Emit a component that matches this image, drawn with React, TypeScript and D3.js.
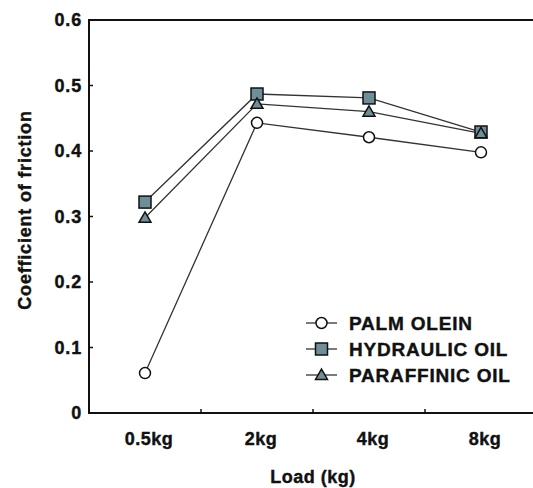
import React from "react";
import * as d3 from "d3";

const categories = ["0.5kg", "2kg", "4kg", "8kg"];
const palmOlein = [0.061, 0.443, 0.421, 0.398];
const hydraulicOil = [0.322, 0.487, 0.481, 0.429];
const paraffinicOil = [0.298, 0.472, 0.46, 0.427];
const yTicks = [0, 0.1, 0.2, 0.3, 0.4, 0.5, 0.6];
const seriesNames = ["PALM OLEIN", "HYDRAULIC OIL", "PARAFFINIC OIL"];

const W = 533;
const H = 488;
const M = { left: 89, top: 20, right: 537, bottom: 413 };
const FILL = "#6f8f98";
const INK = "#111";
const FONT = "'Liberation Sans', Arial, sans-serif";

function Marker({ type, x, y }: { type: string; x: number; y: number }) {
  if (type === "circle")
    return <circle cx={x} cy={y} r={5.5} fill="#fff" stroke={INK} strokeWidth={1.5} />;
  if (type === "square")
    return <rect x={x - 6} y={y - 6} width={12} height={12} fill={FILL} stroke={INK} strokeWidth={1.5} />;
  const p = d3.symbol(d3.symbolTriangle, 62)();
  return <path d={p || ""} transform={`translate(${x},${y + 1})`} fill={FILL} stroke={INK} strokeWidth={1.5} />;
}

export default function App() {
  const x = d3.scaleBand<string>().domain(categories).range([M.left, M.right]).padding(0);
  const y = d3.scaleLinear().domain([0, 0.6]).range([M.bottom, M.top]);
  const cx = (c: string) => (x(c) as number) + x.bandwidth() / 2;
  const series = [
    { name: seriesNames[0], values: palmOlein, type: "circle" },
    { name: seriesNames[1], values: hydraulicOil, type: "square" },
    { name: seriesNames[2], values: paraffinicOil, type: "triangle" },
  ];
  const line = d3
    .line<number>()
    .x((_, i) => cx(categories[i]))
    .y((v) => y(v));

  const legendX = 306;
  const legendY = [323, 349, 375];

  return (
    <svg
      width={W}
      height={H}
      style={{ position: "absolute", left: 0, top: 0, background: "#fff" }}
      fontFamily={FONT}
    >
      <rect x={0} y={0} width={W} height={H} fill="#fff" />
      <rect
        x={M.left}
        y={M.top}
        width={M.right - M.left}
        height={M.bottom - M.top}
        fill="none"
        stroke={INK}
        strokeWidth={2}
      />
      {yTicks.map((t) => (
        <g key={t}>
          <line x1={M.left} x2={M.left + 4} y1={y(t)} y2={y(t)} stroke={INK} strokeWidth={1.5} />
          <text
            x={82}
            y={y(t)}
            dy="0.36em"
            textAnchor="end"
            fontSize={18}
            fontWeight="bold"
            letterSpacing={0.8}
            stroke={INK}
            strokeWidth={0.4}
            fill={INK}
          >
            {t === 0 ? "0" : t.toFixed(1)}
          </text>
        </g>
      ))}
      {categories.slice(1).map((c) => (
        <line
          key={c}
          x1={x(c) as number}
          x2={x(c) as number}
          y1={M.bottom}
          y2={M.bottom - 4}
          stroke={INK}
          strokeWidth={1.5}
        />
      ))}
      {categories.map((c) => (
        <text
          key={c}
          x={cx(c) + 4}
          y={445}
          textAnchor="middle"
          fontSize={18}
          fontWeight="bold"
          letterSpacing={0.5}
          stroke={INK}
          strokeWidth={0.4}
          fill={INK}
        >
          {c}
        </text>
      ))}
      <text
        x={313}
        y={483}
        textAnchor="middle"
        fontSize={18}
        fontWeight="bold"
        letterSpacing={0.5}
        stroke={INK}
        strokeWidth={0.4}
        fill={INK}
      >
        Load (kg)
      </text>
      <text
        transform={`translate(31,210) rotate(-90)`}
        textAnchor="middle"
        fontSize={18}
        fontWeight="bold"
        letterSpacing={0.8}
        stroke={INK}
        strokeWidth={0.4}
        fill={INK}
      >
        Coefficient of friction
      </text>
      {series.map((s) => (
        <path key={s.name} d={line(s.values) || ""} fill="none" stroke="#333" strokeWidth={1.3} />
      ))}
      {series.map((s) =>
        s.values.map((v, i) => <Marker key={s.name + i} type={s.type} x={cx(categories[i])} y={y(v)} />)
      )}
      {series.map((s, i) => (
        <g key={"lg" + s.name}>
          <line x1={legendX} x2={legendX + 31} y1={legendY[i]} y2={legendY[i]} stroke="#333" strokeWidth={1.3} />
          <Marker type={s.type} x={legendX + 15.5} y={legendY[i]} />
          <text
            x={legendX + 43}
            y={legendY[i]}
            dy="0.36em"
            fontSize={19}
            fontWeight="bold"
            letterSpacing={0.8}
            stroke={INK}
            strokeWidth={0.4}
            fill={INK}
          >
            {s.name}
          </text>
        </g>
      ))}
    </svg>
  );
}
